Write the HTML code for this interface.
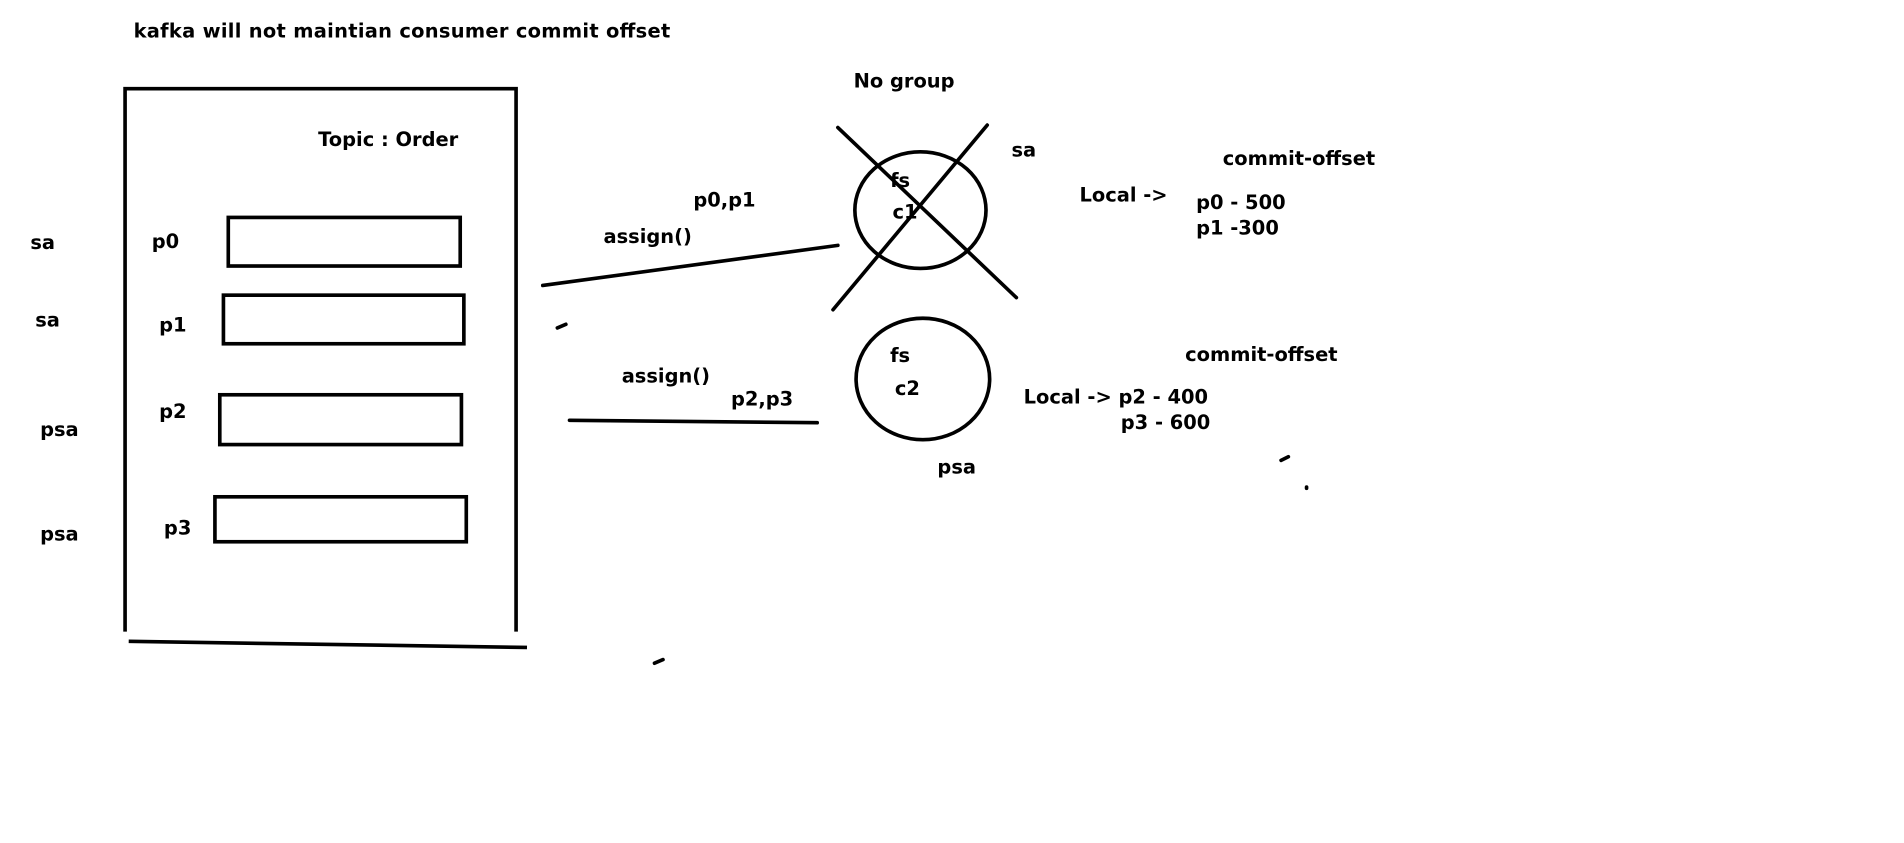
<!DOCTYPE html>
<html><head><meta charset="utf-8"><style>
html,body{margin:0;padding:0;background:#fff;width:1904px;height:843px;overflow:hidden}
svg{display:block}
text{font-family:"DejaVu Sans","Liberation Sans",sans-serif;font-weight:bold;font-size:16px;fill:#000}
</style></head><body>
<svg width="1904" height="843" viewBox="0 0 1568 694" preserveAspectRatio="none">
<g stroke="#000" stroke-width="3" fill="none">
<path d="M103 520 L103 73 L425 73 L425 520"/>
<path d="M106 528 L434 533"/>
</g>
<text x="110" y="31" textLength="442">kafka will not maintian consumer commit offset</text>
<text x="262" y="120">Topic : Order</text>
<g stroke="#000" stroke-width="3" fill="none">
<rect x="188" y="179" width="191" height="40"/>
<rect x="184" y="243" width="198" height="40"/>
<rect x="181" y="325" width="199" height="41"/>
<rect x="177" y="409" width="207" height="37"/>
</g>
<text x="25" y="205">sa</text>
<text x="125" y="204">p0</text>
<text x="29" y="269">sa</text>
<text x="131" y="273">p1</text>
<text x="33" y="359">psa</text>
<text x="131" y="344">p2</text>
<text x="33" y="445">psa</text>
<text x="135" y="440">p3</text>
<g stroke="#000" stroke-width="3" fill="none" stroke-linecap="round">
<path d="M447 235 L690 202"/>
<path d="M459 270 L466 267"/>
<path d="M469 346 L673 348"/>
<path d="M539 546 L546 543"/>
<path d="M1055 379 L1061 376"/>
<path d="M1076 401 L1076 402"/>
<ellipse cx="758" cy="173" rx="54" ry="48"/>
<path d="M690 105 L837 245"/>
<path d="M813 103 L686 255"/>
<ellipse cx="760" cy="312" rx="55" ry="50"/>
</g>
<text x="571" y="170">p0,p1</text>
<text x="497" y="200">assign()</text>
<text x="703" y="72">No group</text>
<text x="733" y="154">fs</text>
<text x="735" y="180">c1</text>
<text x="833" y="129">sa</text>
<text x="889" y="166">Local -&gt;</text>
<text x="1007" y="136">commit-offset</text>
<text x="985" y="172">p0 - 500</text>
<text x="985" y="193">p1 -300</text>
<text x="733" y="298">fs</text>
<text x="737" y="325">c2</text>
<text x="512" y="315">assign()</text>
<text x="602" y="334">p2,p3</text>
<text x="976" y="297">commit-offset</text>
<text x="843" y="332">Local -&gt; p2 - 400</text>
<text x="923" y="353">p3 - 600</text>
<text x="772" y="390">psa</text>
</svg>
</body></html>
